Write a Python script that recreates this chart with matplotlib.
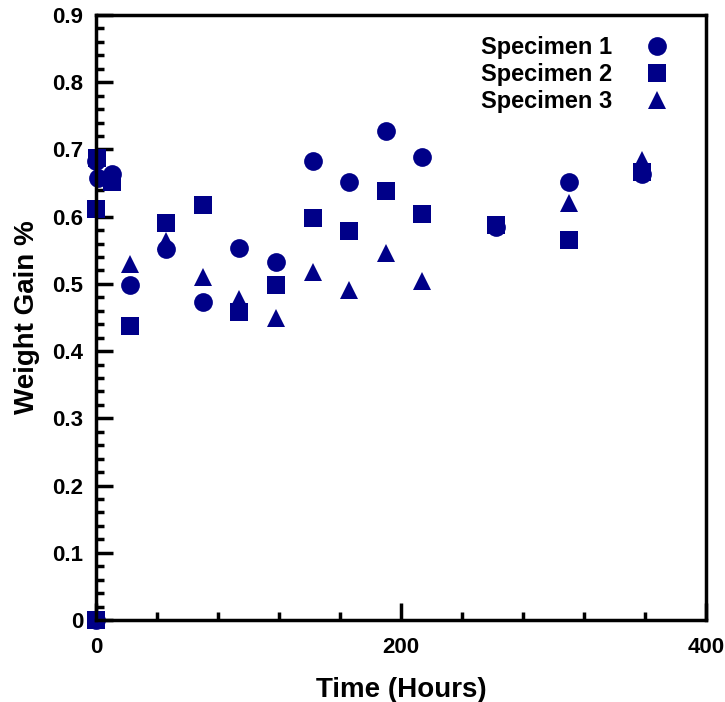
import matplotlib
matplotlib.use("Agg")
from matplotlib import pyplot as plt
from matplotlib.ticker import MultipleLocator

plt.rcParams['font.family'] = ['Liberation Sans', 'DejaVu Sans']
plt.rcParams['font.weight'] = 'bold'

# specimen 1 (circles)
t1 = [0, 0, 1, 10.5, 22, 46, 70, 94, 118, 142, 166, 190, 214, 262, 310, 358]
w1 = [0.0, 0.683, 0.657, 0.663, 0.499, 0.552, 0.473, 0.553, 0.532, 0.683, 0.651, 0.728, 0.689, 0.584, 0.651, 0.664]

# specimen 2 (squares)
t2 = [0, 0.7, 0, 10.5, 22.5, 46, 70, 94, 118, 142, 166, 190, 214, 262, 310, 358]
w2 = [0.0, 0.688, 0.612, 0.652, 0.438, 0.591, 0.618, 0.458, 0.499, 0.598, 0.578, 0.638, 0.604, 0.588, 0.566, 0.666]

# specimen 3 (triangles)
t3 = [0, 22, 46, 70, 94, 118, 142, 166, 190, 214, 262, 310, 358]
w3 = [0.0, 0.530, 0.564, 0.510, 0.478, 0.449, 0.518, 0.491, 0.546, 0.504, 0.587, 0.621, 0.685]

labels = ["Specimen 1", "Specimen 2", "Specimen 3"]
col = '#000088'

fig = plt.figure(figsize=(7.25, 7.02), dpi=100)
ax = fig.add_axes([96/725, 1-620/702, (706-96)/725, (620-15)/702])

ms = 13.5
ax.plot(t1, w1, 'o', color=col, ms=ms, mew=0, clip_on=False, label=labels[0])
ax.plot(t2, w2, 's', color=col, ms=ms, mew=0, clip_on=False, label=labels[1])
ax.plot(t3, w3, '^', color=col, ms=ms, mew=0, clip_on=False, label=labels[2])

ax.set_xlim(0, 400)
ax.set_ylim(0, 0.9)
ax.xaxis.set_major_locator(MultipleLocator(200))
ax.xaxis.set_minor_locator(MultipleLocator(40))
ax.yaxis.set_minor_locator(MultipleLocator(0.02))
ax.set_yticks([0, 0.1, 0.2, 0.3, 0.4, 0.5, 0.6, 0.7, 0.8, 0.9])
ax.set_yticklabels(['0', '0.1', '0.2', '0.3', '0.4', '0.5', '0.6', '0.7', '0.8', '0.9'])

ax.tick_params(which='both', direction='in', top=False, right=False, labelsize=16, width=2.5)
ax.tick_params(which='major', length=12)
ax.tick_params(which='minor', length=6)
ax.tick_params(axis='y', pad=9)
ax.tick_params(axis='x', pad=12)
for s in ax.spines.values():
    s.set_linewidth(2.5)

ax.set_xlabel("Time (Hours)", fontsize=20, fontweight='bold', labelpad=14)
ax.set_ylabel("Weight Gain %", fontsize=20, fontweight='bold', labelpad=9)

ax.legend(loc='upper right', frameon=False, markerfirst=False, fontsize=17,
          handletextpad=0.9, labelspacing=0.17, borderaxespad=0.5,
          bbox_to_anchor=(0.993, 1.0))

fig.savefig("out.png", dpi=100)
